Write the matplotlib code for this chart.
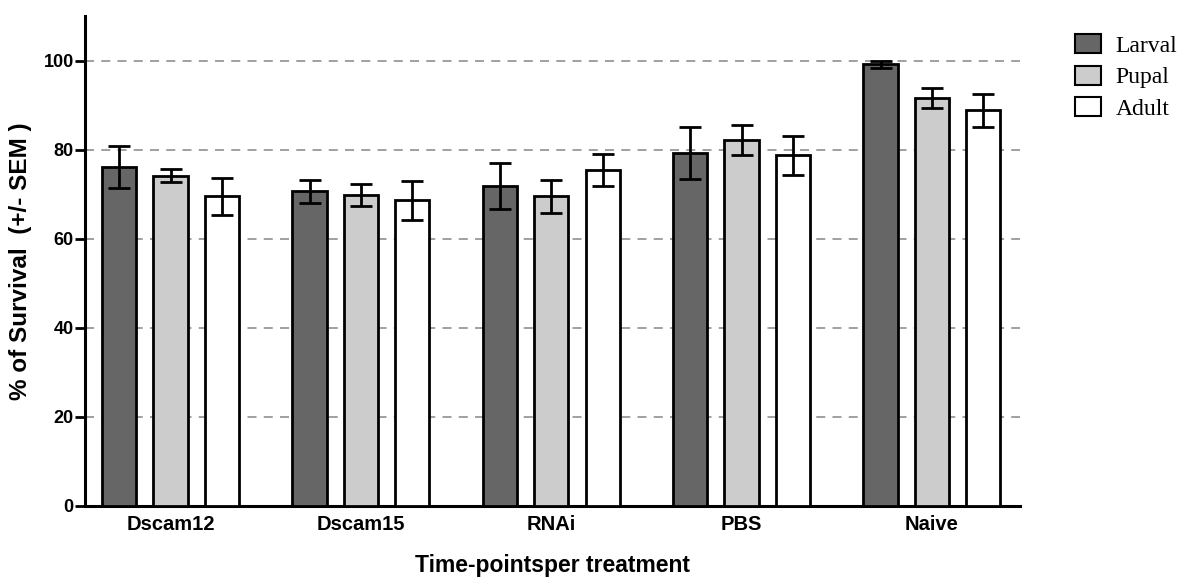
import matplotlib.pyplot as plt
import numpy as np

treatments = ['Dscam12', 'Dscam15', 'RNAi', 'PBS', 'Naive']
stages = ['Larval', 'Pupal', 'Adult']

larval = [76.1, 70.7, 71.8, 79.3, 99.2]
pupal = [74.2, 69.8, 69.5, 82.2, 91.6]
adult = [69.5, 68.6, 75.5, 78.7, 88.9]

larval_sem = [4.7, 2.6, 5.1, 5.8, 0.8]
pupal_sem = [1.5, 2.4, 3.7, 3.4, 2.3]
adult_sem = [4.2, 4.3, 3.6, 4.3, 3.7]

colors = ['#666666', '#cccccc', '#ffffff']

fig = plt.figure(figsize=(11.8, 5.78), dpi=100)
ax = fig.add_axes([0.072, 0.125, 0.792, 0.847])

x = np.arange(len(treatments))
w = 0.18
off = 0.27
for i, (vals, errs) in enumerate(zip([larval, pupal, adult], [larval_sem, pupal_sem, adult_sem])):
    ax.bar(x + (i - 1) * off, vals, w, color=colors[i], edgecolor='black',
           linewidth=2, label=stages[i], zorder=3)
    ax.errorbar(x + (i - 1) * off, vals, yerr=errs, fmt='none', ecolor='black',
                elinewidth=2, capsize=8, capthick=2, zorder=4)

for yv in [20, 40, 60, 80, 100]:
    ax.axhline(yv, color='#999999', linestyle=(0, (5, 4)), linewidth=1.3, zorder=1)

ax.set_xlim(-0.45, 4.46)
ax.set_ylim(0, 110)
ax.set_yticks([0, 20, 40, 60, 80, 100])
ax.set_xticks(x)
ax.set_xticklabels(treatments)
ax.tick_params(axis='x', length=0, pad=7)
ax.tick_params(axis='y', length=7, width=2, pad=1)
for lab in ax.get_xticklabels():
    lab.set_fontfamily('Liberation Sans')
    lab.set_fontweight('bold')
    lab.set_fontsize(14.5)
for lab in ax.get_yticklabels():
    lab.set_fontfamily('Liberation Sans')
    lab.set_fontweight('bold')
    lab.set_fontsize(13)

for s in ['top', 'right']:
    ax.spines[s].set_visible(False)
for s in ['left', 'bottom']:
    ax.spines[s].set_linewidth(2.2)

ax.set_ylabel('% of Survival  (+/- SEM )', fontfamily='Liberation Sans',
              fontweight='bold', fontsize=17.5, labelpad=8)
ax.set_xlabel('Time-pointsper treatment', fontfamily='Liberation Sans',
              fontweight='bold', fontsize=16.5, labelpad=14)

leg = ax.legend(loc='upper left', bbox_to_anchor=(1.042, 0.997), frameon=False,
                prop={'family': 'Liberation Serif', 'size': 17},
                handlelength=1.1, handleheight=0.85, handletextpad=0.6,
                labelspacing=0.38, borderpad=0.2)
for h in leg.legend_handles:
    h.set_linewidth(1.5)

fig.savefig('out.png', dpi=100)
